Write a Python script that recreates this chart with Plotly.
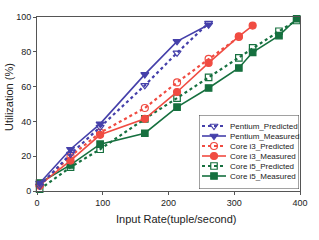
import plotly.graph_objects as go

rates = [4, 51, 96, 164, 213, 261, 307, 328, 368, 395]

pentium_pred = [3, 21.2, 36.7, 60.7, 79.4, 96.5]
pentium_meas = [4.5, 24.0, 38.6, 67.0, 86.0, 95.5]
i3_pred = [3, 20.0, 33.5, 47.7, 62.4, 75.9, 88.5]
i3_meas = [3.5, 17.5, 32.3, 41.5, 56.9, 73.6, 88.9, 95.1]
i5_pred = [1.0, 13.7, 24.0, 41.5, 53.4, 65.3, 76.5, 82.2, 91.8, 98.0]
i5_meas = [4.6, 15.0, 26.9, 33.2, 48.2, 59.2, 70.7, 79.7, 89.3, 99.0]

names = ["Pentium_Predicted", "Pentium_Measured", "Core i3_Predicted",
         "Core i3_Measured", "Core i5_Predicted", "Core i5_Measured"]
series = [pentium_pred, pentium_meas, i3_pred, i3_meas, i5_pred, i5_meas]

BLUE = "#4540aa"
RED = "#f04c42"
GREEN = "#16703f"
colors = [BLUE, BLUE, RED, RED, GREEN, GREEN]
symbols = ["triangle-down-open", "triangle-down", "circle-open", "circle",
           "square-open", "square"]
dashes = ["dot", "solid", "dot", "solid", "dot", "solid"]
widths = [2.2, 1.6, 2.2, 1.6, 2.2, 1.6]
msizes = [7, 7, 7, 7, 6.5, 6.5]

W, H = 319, 240
L, R, T, B = 37, 19, 17, 49
pw, ph = W - L - R, H - T - B

fig = go.Figure()

order = [4, 5, 2, 3, 0, 1]
for i in order:
    ys = series[i]
    fig.add_trace(go.Scatter(
        x=rates[:len(ys)], y=ys, mode="lines+markers", name=names[i],
        line=dict(color=colors[i], width=widths[i], dash=dashes[i]),
        marker=dict(symbol=symbols[i], size=msizes[i], color=colors[i],
                    line=dict(color=colors[i], width=1.2)),
        showlegend=False, cliponaxis=False))

# ---- manual legend on a helper axis (pixel-like units) ----
box_l, box_r, box_t, box_b = 199, 299, 115, 189
dx0 = (box_l - L) / pw
dx1 = (box_r - L) / pw
dy0 = (H - B - box_b) / ph
dy1 = (H - B - box_t) / ph
bw, bh = box_r - box_l, box_b - box_t

fig.add_trace(go.Scatter(
    x=[0, bw, bw, 0, 0], y=[0, 0, bh, bh, 0], mode="lines", fill="toself",
    fillcolor="white", line=dict(color="#444", width=1),
    xaxis="x2", yaxis="y2", showlegend=False, hoverinfo="skip"))

row_y = [11, 21, 31, 41, 51, 61]
for k in range(6):
    fig.add_trace(go.Scatter(
        x=[3, 15, 27], y=[row_y[k]] * 3, mode="lines",
        line=dict(color=colors[k], width=widths[k], dash=dashes[k]),
        xaxis="x2", yaxis="y2", showlegend=False, hoverinfo="skip"))
    fig.add_trace(go.Scatter(
        x=[15], y=[row_y[k]], mode="markers",
        marker=dict(symbol=symbols[k], size=msizes[k], color=colors[k],
                    line=dict(color=colors[k], width=1.2)),
        xaxis="x2", yaxis="y2", showlegend=False, hoverinfo="skip"))
    fig.add_annotation(x=29, y=row_y[k], xref="x2", yref="y2", text=names[k],
                       showarrow=False, xanchor="left", yanchor="middle",
                       font=dict(size=8, color="#222"))

fig.update_layout(
    width=W, height=H,
    margin=dict(l=L, r=R, t=T, b=B),
    paper_bgcolor="white", plot_bgcolor="white",
    font=dict(family="Liberation Sans, Arial, sans-serif", color="#222"),
    showlegend=False,
    xaxis=dict(range=[0, 400], tickvals=[0, 100, 200, 300, 400],
               showgrid=False, zeroline=False, showline=True,
               linecolor="#555", linewidth=1, mirror=True,
               ticks="outside", ticklen=3, tickcolor="#555",
               tickfont=dict(size=9, color="#222")),
    yaxis=dict(range=[0, 100], tickvals=[0, 20, 40, 60, 80, 100],
               showgrid=False, zeroline=False, showline=True,
               linecolor="#555", linewidth=1, mirror=True,
               ticks="outside", ticklen=3, tickcolor="#555",
               tickfont=dict(size=9, color="#222")),
    xaxis2=dict(domain=[dx0, dx1], range=[0, bw], visible=False,
                anchor="y2", fixedrange=True),
    yaxis2=dict(domain=[dy0, dy1], range=[bh, 0], visible=False,
                anchor="x2", fixedrange=True),
)

fig.add_annotation(x=(176 - L) / pw, y=-(219 - (H - B)) / ph, xref="paper",
                   yref="paper", text="Input Rate(tuple/second)",
                   showarrow=False, xanchor="center", yanchor="middle",
                   font=dict(size=11, color="#222"))
fig.add_annotation(x=-(L - 9) / pw, y=(H - B - 97) / ph, xref="paper",
                   yref="paper", text="Utilization (%)", textangle=-90,
                   showarrow=False, xanchor="center", yanchor="middle",
                   font=dict(size=11, color="#222"))

fig.write_html(
    "out.html",
    config={"displayModeBar": False},
    post_script="document.body.style.margin='0';document.body.style.padding='0';"
                "document.documentElement.style.overflow='hidden';",
)
